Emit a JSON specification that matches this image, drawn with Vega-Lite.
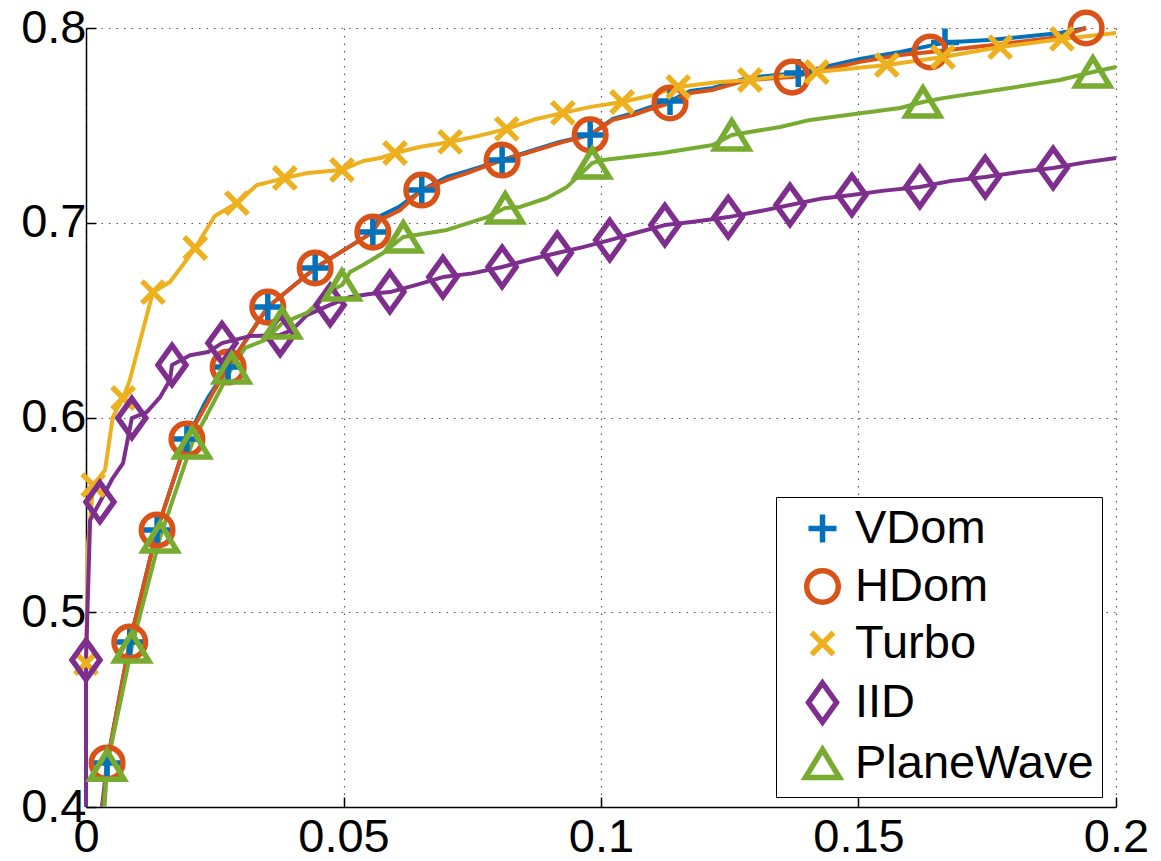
{
"$schema": "https://vega.github.io/schema/vega-lite/v6.json",
"width": 1030, "height": 779,
"autosize": "none",
"padding": {"left": 86, "top": 28, "right": 45, "bottom": 54},
"background": "white",
"data": {"values": [
{"s":"VDom","i":0,"x":0.0031,"y":0.4,"m":0},
{"s":"VDom","i":1,"x":0.0041,"y":0.4226,"m":1},
{"s":"VDom","i":2,"x":0.0085,"y":0.4847,"m":1},
{"s":"VDom","i":3,"x":0.0138,"y":0.5422,"m":1},
{"s":"VDom","i":4,"x":0.0196,"y":0.5889,"m":1},
{"s":"VDom","i":5,"x":0.0228,"y":0.606,"m":0},
{"s":"VDom","i":6,"x":0.024,"y":0.6115,"m":0},
{"s":"VDom","i":7,"x":0.0276,"y":0.6259,"m":1},
{"s":"VDom","i":8,"x":0.0353,"y":0.6567,"m":1},
{"s":"VDom","i":9,"x":0.0445,"y":0.6768,"m":1},
{"s":"VDom","i":10,"x":0.0557,"y":0.6952,"m":1},
{"s":"VDom","i":11,"x":0.0571,"y":0.7035,"m":0},
{"s":"VDom","i":12,"x":0.061,"y":0.7085,"m":0},
{"s":"VDom","i":13,"x":0.0652,"y":0.7168,"m":1},
{"s":"VDom","i":14,"x":0.0701,"y":0.7235,"m":0},
{"s":"VDom","i":15,"x":0.074,"y":0.7265,"m":0},
{"s":"VDom","i":16,"x":0.0808,"y":0.7322,"m":1},
{"s":"VDom","i":17,"x":0.0862,"y":0.7368,"m":0},
{"s":"VDom","i":18,"x":0.092,"y":0.7415,"m":0},
{"s":"VDom","i":19,"x":0.0979,"y":0.7451,"m":1},
{"s":"VDom","i":20,"x":0.1023,"y":0.7533,"m":0},
{"s":"VDom","i":21,"x":0.1062,"y":0.7563,"m":0},
{"s":"VDom","i":22,"x":0.109,"y":0.7589,"m":0},
{"s":"VDom","i":23,"x":0.1134,"y":0.7625,"m":1},
{"s":"VDom","i":24,"x":0.1173,"y":0.7676,"m":0},
{"s":"VDom","i":25,"x":0.1217,"y":0.7692,"m":0},
{"s":"VDom","i":26,"x":0.1283,"y":0.7743,"m":0},
{"s":"VDom","i":27,"x":0.1383,"y":0.7769,"m":1},
{"s":"VDom","i":28,"x":0.1503,"y":0.7841,"m":0},
{"s":"VDom","i":29,"x":0.1581,"y":0.7877,"m":0},
{"s":"VDom","i":30,"x":0.1668,"y":0.7925,"m":1},
{"s":"VDom","i":31,"x":0.1761,"y":0.794,"m":0},
{"s":"VDom","i":32,"x":0.1891,"y":0.7974,"m":0},
{"s":"VDom","i":33,"x":0.1942,"y":0.8,"m":0},
{"s":"HDom","i":0,"x":0.0033,"y":0.4,"m":0},
{"s":"HDom","i":1,"x":0.0041,"y":0.4226,"m":1},
{"s":"HDom","i":2,"x":0.0085,"y":0.4847,"m":1},
{"s":"HDom","i":3,"x":0.0138,"y":0.5422,"m":1},
{"s":"HDom","i":4,"x":0.0196,"y":0.5889,"m":1},
{"s":"HDom","i":5,"x":0.0235,"y":0.607,"m":0},
{"s":"HDom","i":6,"x":0.0243,"y":0.611,"m":0},
{"s":"HDom","i":7,"x":0.0276,"y":0.6259,"m":1},
{"s":"HDom","i":8,"x":0.0353,"y":0.6567,"m":1},
{"s":"HDom","i":9,"x":0.0445,"y":0.6768,"m":1},
{"s":"HDom","i":10,"x":0.0557,"y":0.6952,"m":1},
{"s":"HDom","i":11,"x":0.0571,"y":0.7014,"m":0},
{"s":"HDom","i":12,"x":0.061,"y":0.7065,"m":0},
{"s":"HDom","i":13,"x":0.0652,"y":0.7168,"m":1},
{"s":"HDom","i":14,"x":0.0701,"y":0.722,"m":0},
{"s":"HDom","i":15,"x":0.074,"y":0.7255,"m":0},
{"s":"HDom","i":16,"x":0.0808,"y":0.7322,"m":1},
{"s":"HDom","i":17,"x":0.0862,"y":0.7363,"m":0},
{"s":"HDom","i":18,"x":0.092,"y":0.741,"m":0},
{"s":"HDom","i":19,"x":0.0979,"y":0.7451,"m":1},
{"s":"HDom","i":20,"x":0.1023,"y":0.7528,"m":0},
{"s":"HDom","i":21,"x":0.1062,"y":0.7553,"m":0},
{"s":"HDom","i":22,"x":0.109,"y":0.7579,"m":0},
{"s":"HDom","i":23,"x":0.1134,"y":0.7615,"m":1},
{"s":"HDom","i":24,"x":0.1173,"y":0.7666,"m":0},
{"s":"HDom","i":25,"x":0.1217,"y":0.7682,"m":0},
{"s":"HDom","i":26,"x":0.1283,"y":0.7733,"m":0},
{"s":"HDom","i":27,"x":0.1371,"y":0.7748,"m":1},
{"s":"HDom","i":28,"x":0.1503,"y":0.7826,"m":0},
{"s":"HDom","i":29,"x":0.1581,"y":0.7861,"m":0},
{"s":"HDom","i":30,"x":0.1639,"y":0.7877,"m":1},
{"s":"HDom","i":31,"x":0.1761,"y":0.7913,"m":0},
{"s":"HDom","i":32,"x":0.1891,"y":0.7954,"m":0},
{"s":"HDom","i":33,"x":0.1942,"y":0.8,"m":1},
{"s":"Turbo","i":0,"x":0,"y":0.4,"m":0},
{"s":"Turbo","i":1,"x":0,"y":0.4739,"m":1},
{"s":"Turbo","i":2,"x":0.0004,"y":0.535,"m":0},
{"s":"Turbo","i":3,"x":0.0014,"y":0.5653,"m":1},
{"s":"Turbo","i":4,"x":0.0037,"y":0.573,"m":0},
{"s":"Turbo","i":5,"x":0.0052,"y":0.6002,"m":0},
{"s":"Turbo","i":6,"x":0.0072,"y":0.61,"m":1},
{"s":"Turbo","i":7,"x":0.0085,"y":0.6192,"m":0},
{"s":"Turbo","i":8,"x":0.013,"y":0.6644,"m":1},
{"s":"Turbo","i":9,"x":0.0163,"y":0.6696,"m":0},
{"s":"Turbo","i":10,"x":0.0188,"y":0.6783,"m":0},
{"s":"Turbo","i":11,"x":0.0212,"y":0.687,"m":1},
{"s":"Turbo","i":12,"x":0.025,"y":0.7035,"m":0},
{"s":"Turbo","i":13,"x":0.0293,"y":0.7101,"m":1},
{"s":"Turbo","i":14,"x":0.0332,"y":0.7194,"m":0},
{"s":"Turbo","i":15,"x":0.0357,"y":0.721,"m":0},
{"s":"Turbo","i":16,"x":0.0386,"y":0.723,"m":1},
{"s":"Turbo","i":17,"x":0.0429,"y":0.7255,"m":0},
{"s":"Turbo","i":18,"x":0.0497,"y":0.7271,"m":1},
{"s":"Turbo","i":19,"x":0.0538,"y":0.7317,"m":0},
{"s":"Turbo","i":20,"x":0.0571,"y":0.7332,"m":0},
{"s":"Turbo","i":21,"x":0.06,"y":0.7358,"m":1},
{"s":"Turbo","i":22,"x":0.065,"y":0.739,"m":0},
{"s":"Turbo","i":23,"x":0.0707,"y":0.7415,"m":1},
{"s":"Turbo","i":24,"x":0.076,"y":0.7445,"m":0},
{"s":"Turbo","i":25,"x":0.0817,"y":0.7482,"m":1},
{"s":"Turbo","i":26,"x":0.087,"y":0.753,"m":0},
{"s":"Turbo","i":27,"x":0.0926,"y":0.7564,"m":1},
{"s":"Turbo","i":28,"x":0.098,"y":0.7595,"m":0},
{"s":"Turbo","i":29,"x":0.1041,"y":0.762,"m":1},
{"s":"Turbo","i":30,"x":0.11,"y":0.7655,"m":0},
{"s":"Turbo","i":31,"x":0.115,"y":0.7697,"m":1},
{"s":"Turbo","i":32,"x":0.122,"y":0.772,"m":0},
{"s":"Turbo","i":33,"x":0.1289,"y":0.7733,"m":1},
{"s":"Turbo","i":34,"x":0.1419,"y":0.7774,"m":1},
{"s":"Turbo","i":35,"x":0.1555,"y":0.781,"m":1},
{"s":"Turbo","i":36,"x":0.1664,"y":0.7851,"m":1},
{"s":"Turbo","i":37,"x":0.1775,"y":0.7902,"m":1},
{"s":"Turbo","i":38,"x":0.1895,"y":0.7944,"m":1},
{"s":"Turbo","i":39,"x":0.2,"y":0.7974,"m":0},
{"s":"IID","i":0,"x":0,"y":0.4,"m":0},
{"s":"IID","i":1,"x":0,"y":0.4755,"m":1},
{"s":"IID","i":2,"x":0.0008,"y":0.5473,"m":0},
{"s":"IID","i":3,"x":0.0027,"y":0.5566,"m":1},
{"s":"IID","i":4,"x":0.0052,"y":0.5689,"m":0},
{"s":"IID","i":5,"x":0.0072,"y":0.5766,"m":0},
{"s":"IID","i":6,"x":0.0089,"y":0.5997,"m":1},
{"s":"IID","i":7,"x":0.0118,"y":0.6028,"m":0},
{"s":"IID","i":8,"x":0.0144,"y":0.6105,"m":0},
{"s":"IID","i":9,"x":0.0163,"y":0.6192,"m":0},
{"s":"IID","i":10,"x":0.0167,"y":0.627,"m":1},
{"s":"IID","i":11,"x":0.0202,"y":0.632,"m":0},
{"s":"IID","i":12,"x":0.0237,"y":0.6336,"m":0},
{"s":"IID","i":13,"x":0.0264,"y":0.6382,"m":1},
{"s":"IID","i":14,"x":0.0318,"y":0.6418,"m":0},
{"s":"IID","i":15,"x":0.0377,"y":0.6424,"m":1},
{"s":"IID","i":16,"x":0.04,"y":0.6449,"m":0},
{"s":"IID","i":17,"x":0.0429,"y":0.6526,"m":0},
{"s":"IID","i":18,"x":0.0474,"y":0.6578,"m":1},
{"s":"IID","i":19,"x":0.0513,"y":0.6619,"m":0},
{"s":"IID","i":20,"x":0.0551,"y":0.6634,"m":0},
{"s":"IID","i":21,"x":0.059,"y":0.6644,"m":1},
{"s":"IID","i":22,"x":0.064,"y":0.668,"m":0},
{"s":"IID","i":23,"x":0.0693,"y":0.6721,"m":1},
{"s":"IID","i":24,"x":0.075,"y":0.674,"m":0},
{"s":"IID","i":25,"x":0.0808,"y":0.6773,"m":1},
{"s":"IID","i":26,"x":0.086,"y":0.681,"m":0},
{"s":"IID","i":27,"x":0.0915,"y":0.6845,"m":1},
{"s":"IID","i":28,"x":0.0965,"y":0.6875,"m":0},
{"s":"IID","i":29,"x":0.1017,"y":0.6911,"m":1},
{"s":"IID","i":30,"x":0.107,"y":0.695,"m":0},
{"s":"IID","i":31,"x":0.1124,"y":0.6988,"m":1},
{"s":"IID","i":32,"x":0.118,"y":0.7005,"m":0},
{"s":"IID","i":33,"x":0.1247,"y":0.7029,"m":1},
{"s":"IID","i":34,"x":0.131,"y":0.706,"m":0},
{"s":"IID","i":35,"x":0.1367,"y":0.7091,"m":1},
{"s":"IID","i":36,"x":0.143,"y":0.7125,"m":0},
{"s":"IID","i":37,"x":0.1487,"y":0.7142,"m":1},
{"s":"IID","i":38,"x":0.155,"y":0.7165,"m":0},
{"s":"IID","i":39,"x":0.1619,"y":0.7184,"m":1},
{"s":"IID","i":40,"x":0.168,"y":0.7215,"m":0},
{"s":"IID","i":41,"x":0.1746,"y":0.7235,"m":1},
{"s":"IID","i":42,"x":0.181,"y":0.726,"m":0},
{"s":"IID","i":43,"x":0.1878,"y":0.7281,"m":1},
{"s":"IID","i":44,"x":0.194,"y":0.731,"m":0},
{"s":"IID","i":45,"x":0.2,"y":0.7332,"m":0},
{"s":"PlaneWave","i":0,"x":0.0036,"y":0.4,"m":0},
{"s":"PlaneWave","i":1,"x":0.0041,"y":0.4215,"m":1},
{"s":"PlaneWave","i":2,"x":0.0089,"y":0.4821,"m":1},
{"s":"PlaneWave","i":3,"x":0.0144,"y":0.5386,"m":1},
{"s":"PlaneWave","i":4,"x":0.0206,"y":0.5869,"m":1},
{"s":"PlaneWave","i":5,"x":0.0283,"y":0.6254,"m":1},
{"s":"PlaneWave","i":6,"x":0.0309,"y":0.6357,"m":0},
{"s":"PlaneWave","i":7,"x":0.0348,"y":0.6398,"m":0},
{"s":"PlaneWave","i":8,"x":0.0381,"y":0.6485,"m":1},
{"s":"PlaneWave","i":9,"x":0.0429,"y":0.6537,"m":0},
{"s":"PlaneWave","i":10,"x":0.0478,"y":0.6655,"m":0},
{"s":"PlaneWave","i":11,"x":0.0497,"y":0.668,"m":1},
{"s":"PlaneWave","i":12,"x":0.0513,"y":0.6747,"m":0},
{"s":"PlaneWave","i":13,"x":0.0538,"y":0.6783,"m":0},
{"s":"PlaneWave","i":14,"x":0.0577,"y":0.6845,"m":0},
{"s":"PlaneWave","i":15,"x":0.0616,"y":0.6927,"m":1},
{"s":"PlaneWave","i":16,"x":0.0701,"y":0.6963,"m":0},
{"s":"PlaneWave","i":17,"x":0.0779,"y":0.7029,"m":0},
{"s":"PlaneWave","i":18,"x":0.0814,"y":0.7076,"m":1},
{"s":"PlaneWave","i":19,"x":0.0843,"y":0.7081,"m":0},
{"s":"PlaneWave","i":20,"x":0.0895,"y":0.7127,"m":0},
{"s":"PlaneWave","i":21,"x":0.0934,"y":0.7184,"m":0},
{"s":"PlaneWave","i":22,"x":0.0983,"y":0.7307,"m":1},
{"s":"PlaneWave","i":23,"x":0.1004,"y":0.7322,"m":0},
{"s":"PlaneWave","i":24,"x":0.112,"y":0.7358,"m":0},
{"s":"PlaneWave","i":25,"x":0.1217,"y":0.7399,"m":0},
{"s":"PlaneWave","i":26,"x":0.1254,"y":0.7451,"m":1},
{"s":"PlaneWave","i":27,"x":0.1348,"y":0.7492,"m":0},
{"s":"PlaneWave","i":28,"x":0.1406,"y":0.7528,"m":0},
{"s":"PlaneWave","i":29,"x":0.1478,"y":0.7553,"m":0},
{"s":"PlaneWave","i":30,"x":0.1581,"y":0.7589,"m":0},
{"s":"PlaneWave","i":31,"x":0.1625,"y":0.762,"m":1},
{"s":"PlaneWave","i":32,"x":0.1664,"y":0.764,"m":0},
{"s":"PlaneWave","i":33,"x":0.1794,"y":0.7692,"m":0},
{"s":"PlaneWave","i":34,"x":0.1891,"y":0.7733,"m":0},
{"s":"PlaneWave","i":35,"x":0.1955,"y":0.7774,"m":1},
{"s":"PlaneWave","i":36,"x":0.2,"y":0.78,"m":0}
]},
"encoding": {
  "x": {"field": "x", "type": "quantitative",
        "scale": {"domain": [0, 0.2], "nice": false, "zero": false},
        "axis": {"values": [0, 0.05, 0.1, 0.15, 0.2], "format": "~g", "title": null, "labelPadding": 17}},
  "y": {"field": "y", "type": "quantitative",
        "scale": {"domain": [0.4, 0.8], "nice": false, "zero": false},
        "axis": {"values": [0.4, 0.5, 0.6, 0.7, 0.8], "format": ".1f", "title": null, "labelPadding": 10}}
},
"layer": [
  {"mark": {"type": "line", "strokeWidth": 4, "strokeJoin": "round"},
   "encoding": {
     "color": {"field": "s", "type": "nominal",
       "scale": {"domain": ["VDom", "HDom", "Turbo", "IID", "PlaneWave"],
                 "range": ["#0072BD", "#D95319", "#EDB120", "#7E2F8E", "#77AC30"]},
       "legend": null},
     "order": {"field": "i", "type": "quantitative"}
   }},
  {"transform": [{"filter": "datum.m == 1"}],
   "mark": {"type": "point", "filled": false, "strokeWidth": 5.5, "opacity": 1, "size": 400},
   "encoding": {
     "color": {"field": "s", "type": "nominal",
       "scale": {"domain": ["VDom", "HDom", "Turbo", "IID", "PlaneWave"],
                 "range": ["#0072BD", "#D95319", "#EDB120", "#7E2F8E", "#77AC30"]},
       "legend": {"orient": "none", "legendX": 690, "legendY": 469, "title": null}},
     "shape": {"field": "s", "type": "nominal",
       "scale": {"domain": ["VDom", "HDom", "Turbo", "IID", "PlaneWave"],
                 "range": ["M-1.4,0L1.4,0M0,-1.4L0,1.4",
                           "M1.58,0A1.58,1.58,0,1,1,-1.58,0A1.58,1.58,0,1,1,1.58,0Z",
                           "M-1.1,-1.1L1.1,1.1M1.1,-1.1L-1.1,1.1",
                           "M0,-1.95L1.4,0L0,1.95L-1.4,0Z",
                           "M0,-1.4L1.7,1.4L-1.7,1.4Z"]},
       "legend": {"orient": "none", "legendX": 690, "legendY": 469, "title": null}}
   }}
],
"resolve": {"legend": {"color": "independent", "shape": "independent"}},
"config": {
  "view": {"stroke": null},
  "axis": {
    "labelFont": "Liberation Sans", "labelFontSize": 47, "labelColor": "black",
    "domainColor": "black", "domainWidth": 1.5,
    "tickColor": "black", "tickSize": -10, "tickWidth": 1.5,
    "grid": true, "gridColor": "#555", "gridDash": [1.5, 6], "gridWidth": 1.2,
    "labelFlush": false, "labelOverlap": false, "labelBound": false
  },
  "legend": {
    "labelFont": "Liberation Sans", "labelFontSize": 47, "labelColor": "black",
    "strokeColor": "black", "fillColor": "white", "padding": 8,
    "symbolSize": 400, "symbolStrokeWidth": 5.5,
    "rowPadding": 5, "labelOffset": 9, "symbolOffset": 15,
    "labelLimit": 400
  }
}
}
